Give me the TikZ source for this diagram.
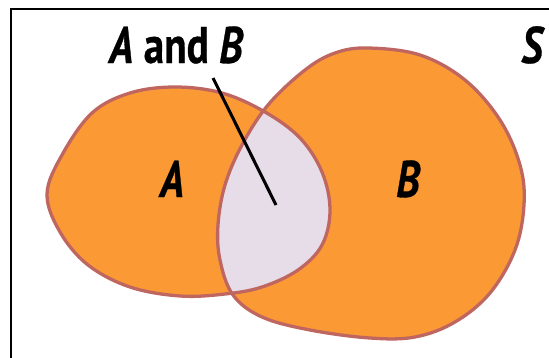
\documentclass[tikz,border=0pt]{standalone}
\usepackage{fontspec}
\setmainfont{PT Sans}[FakeStretch=0.8, FakeBold=0.6]
\definecolor{orangefill}{RGB}{251,153,52}
\definecolor{edgecol}{RGB}{192,102,96}
\definecolor{lensfill}{RGB}{231,221,232}
\tikzset{
  setedge/.style={draw=edgecol, line width=2.8pt},
  biglabel/.style={font=\fontsize{44}{50}\selectfont\bfseries, inner sep=0pt, anchor=base},
}
\def\shapeA{plot[smooth cycle, tension=0.6] coordinates {(47,194) (62,155) (92,113) (130,93) (175,87) (222,93) (265,112) (300,138) (322,172) (330,210) (322,245) (298,270) (262,287) (225,294) (180,296) (130,287) (88,265) (60,232)}}
\def\shapeB{plot[smooth cycle, tension=0.6] coordinates {(368,48) (420,55) (465,80) (500,120) (520,165) (524,205) (515,250) (490,293) (455,322) (415,337) (370,338) (310,330) (262,317) (233,295) (220,260) (218,225) (225,185) (242,145) (268,105) (305,70) (335,53)}}
\begin{document}
\begin{tikzpicture}[x=0.03cm,y=-0.03cm]
\useasboundingbox (0,0) rectangle (549,358);
\clip (0,0) rectangle (549,358);
\fill[white] (0,0) rectangle (549,358);
\draw[black, line width=2.4pt] (11,380) -- (11,9) -- (570,9);
\fill[orangefill] \shapeA;
\fill[orangefill] \shapeB;
\begin{scope}
  \clip \shapeA;
  \fill[lensfill] \shapeB;
\end{scope}
\draw[setedge] \shapeA;
\draw[setedge] \shapeB;
\node[biglabel] (ab) at (176,63) {\itshape A\upshape\ and \itshape B};
\node[biglabel] (s) at (532,63) {\itshape S};
\node[biglabel] (a) at (172,197) {\itshape A};
\node[biglabel] (b) at (408,197) {\itshape B};
\coordinate (p1) at (213,78);
\coordinate (p2) at (276,205);
\draw[black, line width=2.6pt] (p1) -- (p2);
\end{tikzpicture}
\end{document}
